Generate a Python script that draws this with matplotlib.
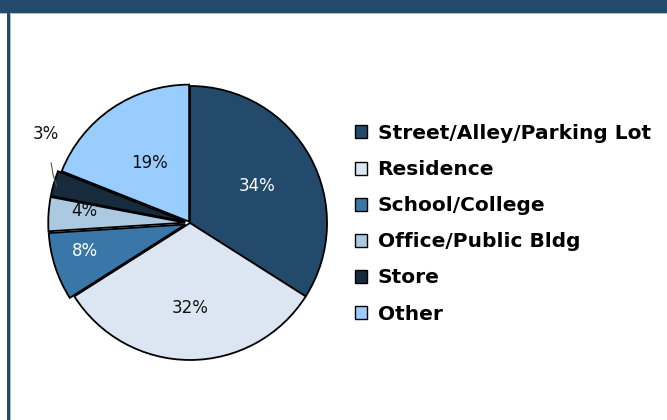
import matplotlib as mpl
mpl.use('Agg')
import matplotlib.pyplot as plt
import numpy as np

mpl.rc('font', family='DejaVu Sans', size=12)

# data
categories = ['Street/Alley/Parking Lot', 'Residence', 'School/College',
              'Office/Public Bldg', 'Store', 'Other']
shares = [34, 32, 8, 4, 3, 19]
colours = ['#244a6b', '#dce6f2', '#3a77a8', '#abcae2', '#172b3c', '#99ccff']
pct_colours = ['white', '#111111', 'white', '#111111', '#111111', '#111111']
explode = [0, 0, 0.035, 0.035, 0.035, 0.012]
pct_dist = [0.56, 0.62, 0.76, 0.74, 1.20, 0.52]
pct_turn = [0, 0, -3, -3, -16, 0]   # degrees the label sits off the slice middle

BAR = '#244a6b'


def main():
    fig = plt.figure(figsize=(6.67, 4.2), dpi=100)
    draw_frame(fig)
    ax = fig.add_axes([0.0795, 0.1429, 0.4108, 0.6524])
    wedges = draw_pie(ax)
    draw_legend(fig, wedges)
    fig.savefig('out.png', dpi=100, facecolor='white')


def draw_frame(fig):
    """Dark banner on top and the left border line"""
    fig.patches.append(plt.Rectangle((0, 1 - 13 / 420.), 1, 13 / 420., transform=fig.transFigure,
                                     facecolor=BAR, edgecolor='none', zorder=0))
    fig.patches.append(plt.Rectangle((0, 1 - 14 / 420.), 1, 1 / 420., transform=fig.transFigure,
                                     facecolor='#a8bdd0', edgecolor='none', zorder=0))
    fig.patches.append(plt.Rectangle((7 / 667., 0), 3 / 667., 1 - 13 / 420., transform=fig.transFigure,
                                     facecolor=BAR, edgecolor='none', zorder=0))
    fig.patches.append(plt.Rectangle((10 / 667., 0), 1 / 667., 1 - 14 / 420., transform=fig.transFigure,
                                     facecolor='#a8bdd0', edgecolor='none', zorder=0))


def draw_pie(ax):
    """Pie, clockwise from 12 o'clock, with percentage labels"""
    wedges, texts, autotexts = ax.pie(shares, colors=colours, explode=explode,
                                      startangle=90, counterclock=False,
                                      autopct='%1.0f%%', pctdistance=0.6,
                                      wedgeprops=dict(edgecolor='black', linewidth=1.3),
                                      textprops=dict(fontsize=12))
    for i, (w, t) in enumerate(zip(wedges, autotexts)):
        ang = np.deg2rad((w.theta1 + w.theta2) / 2. + pct_turn[i])
        cx, cy = w.center
        t.set_position((cx + pct_dist[i] * np.cos(ang), cy + pct_dist[i] * np.sin(ang)))
        t.set_color(pct_colours[i])
        t.set_ha('center')
        t.set_va('center')
    # leader line for the small Store slice
    w = wedges[4]
    ang = np.deg2rad((w.theta1 + w.theta2) / 2.)
    cx, cy = w.center
    x0, y0 = cx + 1.0 * np.cos(ang), cy + 1.0 * np.sin(ang)
    ax.plot([x0 + 0.02, x0 - 0.005, x0 - 0.02],
            [y0 - 0.02, y0 + 0.06, y0 + 0.15],
            color='#555555', linewidth=0.8, clip_on=False)
    ax.set_xlim(-1, 1)
    ax.set_ylim(-1, 1)
    ax.set_aspect('equal')
    ax.axis('off')
    return wedges


def draw_legend(fig, wedges):
    leg = fig.legend(wedges, categories, loc='upper left',
                     bbox_to_anchor=(355 / 667., 1 - 124 / 420.),
                     frameon=False, borderpad=0, borderaxespad=0,
                     handlelength=0.62, handleheight=0.62, handletextpad=0.5,
                     labelspacing=0.85, prop=dict(size=14.5, weight='bold'))
    for h in leg.legend_handles:
        h.set_edgecolor('black')
        h.set_linewidth(1.0)
    return leg


if __name__ == '__main__':
    main()
